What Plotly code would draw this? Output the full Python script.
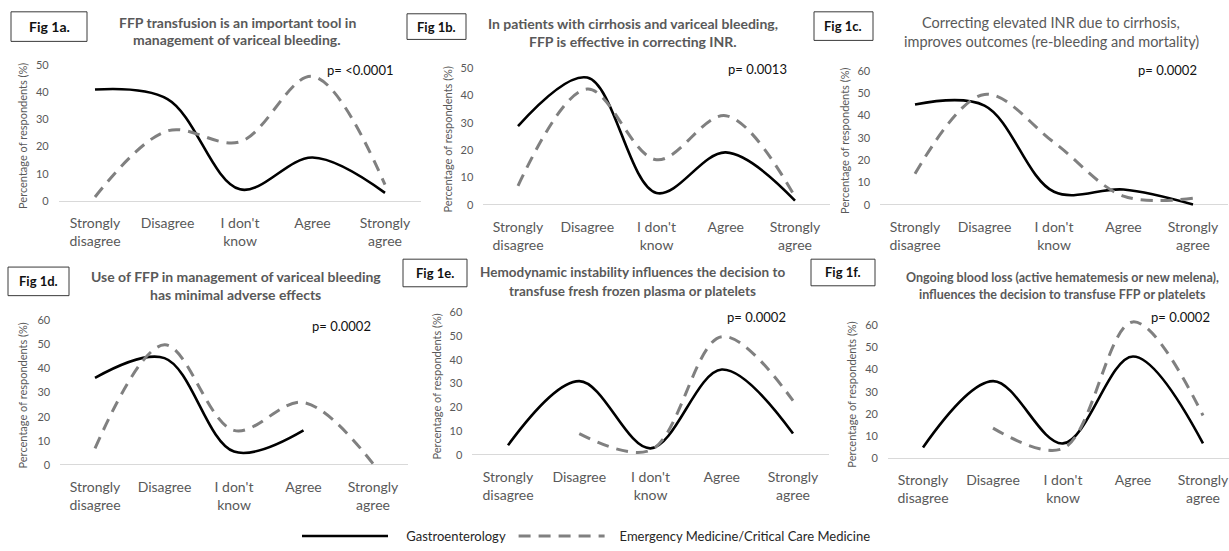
import plotly.graph_objects as go

W, H = 1229, 551

categories = ["Strongly<br>disagree", "Disagree", "I don't<br>know", "Agree", "Strongly<br>agree"]

# series values (% of respondents)
gastro_a = [41, 37.5, 4.3, 16, 3]
em_a = [1.5, 25.8, 21.8, 45.8, 6]
gastro_b = [28.8, 46.5, 4.4, 19.2, 1.6]
em_b = [7, 42.3, 16.5, 32.6, 3]
gastro_c = [45, 44.5, 5.9, 6.9, 0.2]
em_c = [14, 49.5, 28, 4, 3]
gastro_d = [36.1, 44.3, 5.5, 14.3, None]
em_d = [6.8, 49.8, 14.3, 25.9, 0.5]
gastro_e = [4.1, 31, 2.8, 35.9, 9]
em_e = [None, 9, 2, 49.7, 22.8]
gastro_f = [4.9, 34.8, 6.7, 45.9, 6.7]
em_f = [None, 13.6, 4.4, 61.5, 19.3]

fig_labels = ["Fig 1a.", "Fig 1b.", "Fig 1c.", "Fig 1d.", "Fig 1e.", "Fig 1f."]
titles = [
    ["FFP transfusion is an important tool in", "management of variceal bleeding."],
    ["In patients with cirrhosis and variceal bleeding,", "FFP is effective in correcting INR."],
    ["Correcting elevated INR due to cirrhosis,", "improves outcomes (re-bleeding and mortality)"],
    ["Use of FFP in management of variceal bleeding", "has minimal adverse effects"],
    ["Hemodynamic instability influences the decision to", "transfuse fresh frozen plasma or platelets"],
    ["Ongoing blood loss (active hematemesis or new melena),", "influences the decision to transfuse FFP or platelets"],
]
p_values = ["p= <0.0001", "p= 0.0013", "p= 0.0002", "p= 0.0002", "p= 0.0002", "p= 0.0002"]
y_maxes = [50, 50, 60, 60, 60, 60]
y_title = "Percentage of respondents (%)"
series_names = ["Gastroenterology", "Emergency Medicine/Critical Care Medicine"]

gastro = [gastro_a, gastro_b, gastro_c, gastro_d, gastro_e, gastro_f]
em = [em_a, em_b, em_c, em_d, em_e, em_f]

# layout (pixel) specs per panel
panels = [
    dict(x0=95, step=72.5, yb=204, yt=66),
    dict(x0=518, step=69.25, yb=208, yt=69),
    dict(x0=915, step=69.5, yb=208, yt=72),
    dict(x0=95, step=69.5, yb=471.7, yt=325),
    dict(x0=508, step=71.25, yb=461.7, yt=316.7),
    dict(x0=923, step=70, yb=465, yt=330),
]
title_pos = [
    dict(x=237, y=(22.5, 40), size=14, bold=True),
    dict(x=633, y=(24, 42), size=14, bold=True),
    dict(x=1051, y=(23, 42.5), size=14.5, bold=False),
    dict(x=236, y=(281, 298.5), size=14, bold=True),
    dict(x=632, y=(276.5, 295), size=13.5, bold=True),
    dict(x=1062, y=(282, 298.5), size=12.5, bold=True),
]
box_pos = [
    (11, 87, 12, 42), (407, 466, 14, 40), (814, 873, 12, 41),
    (8, 69, 271, 300), (403, 467, 263, 291), (811, 875, 263, 290),
]
p_pos = [(360, 71), (757, 70), (1167, 71), (341, 331), (756, 322), (1180, 322)]
ytitle_x = [23, 447, 845, 23, 437, 852]

def px(x):
    return x / W

def py(y):
    return 1 - y / H

fig = go.Figure()
annotations = []
shapes = []
GRAY = "#595959"
PAD_T, PAD_B = 10, 5
NB = "\u00a0"

for i, p in enumerate(panels):
    n = i + 1
    xa = "x" if n == 1 else f"x{n}"
    ya = "y" if n == 1 else f"y{n}"
    left = p["x0"] - p["step"] / 2
    right = min(p["x0"] + 4.5 * p["step"], W)
    xr = [-0.5, (right - p["x0"]) / p["step"]]
    span = p["yb"] - p["yt"]
    ymax = y_maxes[i]
    upp = ymax / span
    yr = [-PAD_B * upp, ymax + PAD_T * upp]
    dom_y = [py(p["yb"] + PAD_B), py(p["yt"] - PAD_T)]

    fig.add_trace(go.Scatter(
        x=categories, y=gastro[i], mode="lines", name=NB * 4 + series_names[0] + NB,
        line=dict(color="#000000", width=2.6, shape="spline", smoothing=1),
        xaxis=xa, yaxis=ya, showlegend=(i == 0), connectgaps=False,
    ))
    fig.add_trace(go.Scatter(
        x=categories, y=em[i], mode="lines", name=NB * 3 + series_names[1],
        line=dict(color="#808080", width=3, shape="spline", smoothing=1, dash="12px,8px"),
        xaxis=xa, yaxis=ya, showlegend=(i == 0), connectgaps=False,
    ))

    xkey = "xaxis" if n == 1 else f"xaxis{n}"
    ykey = "yaxis" if n == 1 else f"yaxis{n}"
    fig.update_layout(**{
        xkey: dict(
            domain=[px(left), px(right)], range=xr, type="category",
            categoryorder="array", categoryarray=categories,
            showgrid=False, zeroline=False, showline=False, ticks="",
            tickfont=dict(family="Lato", size=14, color=GRAY),
            anchor=ya, ticklabelstandoff=7, fixedrange=True,
        ),
        ykey: dict(
            domain=dom_y, range=yr, tickvals=list(range(0, ymax + 1, 10)),
            showgrid=False, zeroline=True, zerolinecolor="#d9d9d9", zerolinewidth=1,
            showline=False, ticks="",
            tickfont=dict(family="Lato", size=11, color=GRAY),
            anchor=xa, ticklabelstandoff=9, fixedrange=True,
        ),
    })

    t = title_pos[i]
    for line_txt, ly in zip(titles[i], t["y"]):
        txt = f"<b>{line_txt}</b>" if t["bold"] else line_txt
        annotations.append(dict(
            text=txt, x=px(t["x"]), y=py(ly), xref="paper", yref="paper",
            xanchor="center", yanchor="middle", showarrow=False, align="center",
            font=dict(family="Lato", size=t["size"], color=GRAY),
        ))
    bx0, bx1, by0, by1 = box_pos[i]
    shapes.append(dict(
        type="rect", xref="paper", yref="paper",
        x0=px(bx0), x1=px(bx1), y0=py(by1), y1=py(by0),
        line=dict(color="#3a3a3a", width=1), fillcolor="white",
    ))
    annotations.append(dict(
        text=f"<b>{fig_labels[i]}</b>", x=px((bx0 + bx1) / 2), y=py((by0 + by1) / 2),
        xref="paper", yref="paper", xanchor="center", yanchor="middle",
        showarrow=False, font=dict(family="Lato", size=14 if i == 0 else 13, color="#111111"),
    ))
    annotations.append(dict(
        text=p_values[i], x=px(p_pos[i][0]), y=py(p_pos[i][1]), xref="paper", yref="paper",
        xanchor="center", yanchor="middle", showarrow=False,
        font=dict(family="Lato", size=13, color="#111111"),
    ))
    annotations.append(dict(
        text=y_title, x=px(ytitle_x[i]), y=py((p["yb"] + p["yt"]) / 2 + 3),
        xref="paper", yref="paper", xanchor="center", yanchor="middle",
        textangle=-90, showarrow=False,
        font=dict(family="Lato", size=11, color=GRAY),
    ))

fig.update_layout(
    width=W, height=H, margin=dict(l=0, r=0, t=0, b=0),
    paper_bgcolor="white", plot_bgcolor="rgba(0,0,0,0)",
    annotations=annotations, shapes=shapes,
    showlegend=True,
    legend=dict(
        orientation="h", x=px(297), y=py(529), xanchor="left", yanchor="top",
        itemwidth=86, font=dict(family="Lato", size=13, color="#262626"),
        bgcolor="rgba(0,0,0,0)", tracegroupgap=0,
    ),
)

fig.write_html("out.html")
